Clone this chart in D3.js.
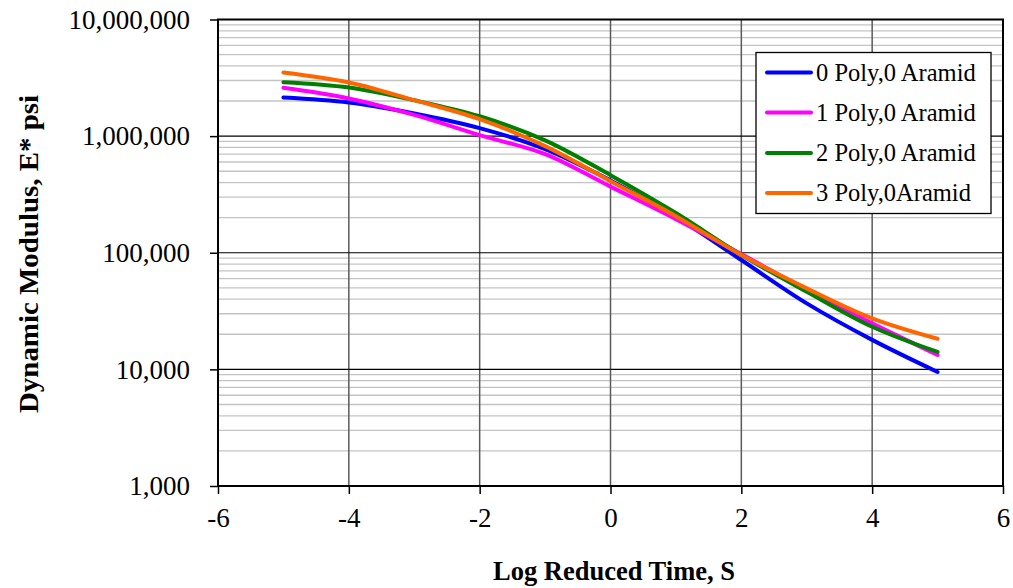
<!DOCTYPE html>
<html>
<head>
<meta charset="utf-8">
<script src="https://cdn.jsdelivr.net/npm/d3@7"></script>
<style>
  html, body { margin: 0; padding: 0; background: #fff; }
  svg { display: block; }
  text { font-family: "Liberation Serif", "Times New Roman", serif; fill: #000; }
</style>
</head>
<body>
<svg id="chart" width="1013" height="588"></svg>
<script>
// Log reduced time (x) for each point of the master curves
const logTime = [-5, -4, -3, -2, -1, 0, 1, 2, 3, 4, 5];

// Dynamic modulus |E*| in psi for each mix
const poly0 = [2146000, 1945000, 1565000, 1171000, 774000, 417000, 202000, 86600, 36800, 17900, 9500];
const poly1 = [2594000, 2104000, 1520000, 1020000, 701000, 369000, 194000, 97500, 47900, 24800, 13300];
const poly2 = [2900000, 2610000, 2030000, 1480000, 920000, 463000, 219000, 95600, 46300, 23200, 14100];
const poly3 = [3513000, 2885000, 2034000, 1399000, 821000, 411000, 206000, 95600, 49500, 27400, 18300];

const seriesNames = ["0 Poly,0 Aramid", "1 Poly,0 Aramid", "2 Poly,0 Aramid", "3 Poly,0Aramid"];
const seriesColors = ["#0000FF", "#FF00FF", "#008000", "#FF6600"];

const xTicks = [-6, -4, -2, 0, 2, 4, 6];
const yTicks = [1000, 10000, 100000, 1000000, 10000000];

const xTitle = "Log Reduced Time, S";
const yTitle = "Dynamic Modulus, E* psi";

const svg = d3.select("#chart");
const plot = { left: 218, right: 1003, top: 19.5, bottom: 486 };

const x = d3.scaleLinear().domain([-6, 6]).range([plot.left, plot.right]);
const y = d3.scaleLog().domain([1000, 10000000]).range([plot.bottom, plot.top]);

// minor horizontal gridlines (2..9 within each decade)
const minor = [];
for (let e = 3; e < 7; e++) {
  for (let m = 2; m <= 9; m++) minor.push(m * Math.pow(10, e));
}
svg.append("g").selectAll("line").data(minor).join("line")
  .attr("x1", plot.left).attr("x2", plot.right)
  .attr("y1", d => y(d)).attr("y2", d => y(d))
  .attr("stroke", "#c4c4c4").attr("stroke-width", 1.3);

// major vertical gridlines
svg.append("g").selectAll("line").data(xTicks.slice(1, -1)).join("line")
  .attr("x1", d => x(d)).attr("x2", d => x(d))
  .attr("y1", plot.top).attr("y2", plot.bottom)
  .attr("stroke", "#5a5a5a").attr("stroke-width", 1.5);

// major horizontal gridlines
svg.append("g").selectAll("line").data(yTicks.slice(1, -1)).join("line")
  .attr("x1", plot.left).attr("x2", plot.right)
  .attr("y1", d => y(d)).attr("y2", d => y(d))
  .attr("stroke", "#000").attr("stroke-width", 1.2);

// plot frame
svg.append("rect")
  .attr("x", plot.left).attr("y", plot.top)
  .attr("width", plot.right - plot.left).attr("height", plot.bottom - plot.top)
  .attr("fill", "none").attr("stroke", "#000").attr("stroke-width", 2);

// y axis
const yAxis = d3.axisLeft(y).tickValues(yTicks).tickFormat(d3.format(",")).tickSize(8).tickPadding(20);
const gy = svg.append("g").attr("transform", `translate(${plot.left},0)`).call(yAxis);
gy.select(".domain").remove();
gy.selectAll(".tick line").attr("stroke", "#000").attr("stroke-width", 1.5);
gy.selectAll(".tick text").attr("font-family", "Liberation Serif").attr("font-size", 27).attr("fill", "#000");

// x axis
const xAxis = d3.axisBottom(x).tickValues(xTicks).tickFormat(d3.format("d")).tickSize(8).tickPadding(14);
const gx = svg.append("g").attr("transform", `translate(0,${plot.bottom})`).call(xAxis);
gx.select(".domain").remove();
gx.selectAll(".tick line").attr("stroke", "#000").attr("stroke-width", 1.5);
gx.selectAll(".tick text").attr("font-family", "Liberation Serif").attr("font-size", 27).attr("fill", "#000")
  .text(d => (d < 0 ? "-" + Math.abs(d) : d));

// series curves
const allSeries = [poly0, poly1, poly2, poly3];
const line = d3.line()
  .x((d, i) => x(logTime[i]))
  .y(d => y(d))
  .curve(d3.curveCatmullRom.alpha(0.5));

svg.append("g").selectAll("path").data(allSeries).join("path")
  .attr("d", d => line(d))
  .attr("fill", "none")
  .attr("stroke", (d, i) => seriesColors[i])
  .attr("stroke-width", 4)
  .attr("stroke-linecap", "round")
  .attr("stroke-linejoin", "round");

// legend
const lg = svg.append("g");
lg.append("rect")
  .attr("x", 756).attr("y", 52.5).attr("width", 235).attr("height", 161)
  .attr("fill", "#fff").attr("stroke", "#000").attr("stroke-width", 1.3);
const rowY = [72.5, 112.5, 153, 193];
seriesNames.forEach((name, i) => {
  lg.append("line")
    .attr("x1", 767).attr("x2", 811).attr("y1", rowY[i]).attr("y2", rowY[i])
    .attr("stroke", seriesColors[i]).attr("stroke-width", 4).attr("stroke-linecap", "round");
  lg.append("text")
    .attr("x", 816).attr("y", rowY[i]).attr("dy", "0.33em")
    .attr("font-size", 24.5)
    .text(name);
});

// axis titles
svg.append("text")
  .attr("x", 614).attr("y", 580)
  .attr("text-anchor", "middle")
  .attr("font-size", 28).attr("font-weight", "bold")
  .attr("textLength", 242).attr("lengthAdjust", "spacingAndGlyphs")
  .text(xTitle);

svg.append("text")
  .attr("transform", "translate(38,254) rotate(-90)")
  .attr("text-anchor", "middle")
  .attr("font-size", 28).attr("font-weight", "bold")
  .attr("textLength", 318).attr("lengthAdjust", "spacingAndGlyphs")
  .text(yTitle);
</script>
</body>
</html>
